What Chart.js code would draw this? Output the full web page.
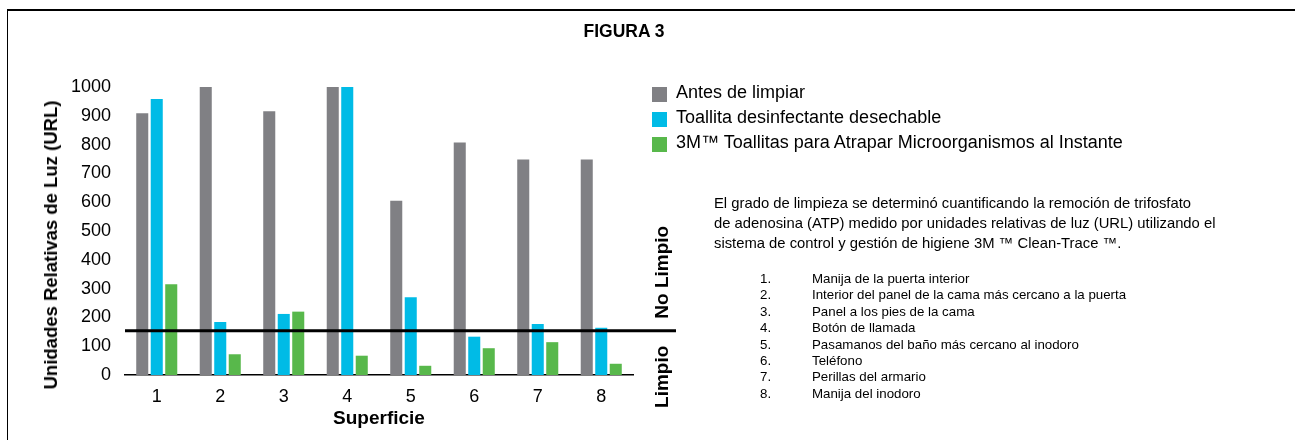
<!DOCTYPE html>
<html><head><meta charset="utf-8">
<script src="https://cdn.jsdelivr.net/npm/chart.js@4.4.0/dist/chart.umd.min.js"></script>
<style>
html,body{margin:0;padding:0;background:#fff;width:1295px;height:440px;overflow:hidden;font-family:"Liberation Sans",Arial,Helvetica,sans-serif;color:#000;}
#frame{position:absolute;left:7px;top:9px;width:1300px;height:440px;border-top:2px solid #000;border-left:1.5px solid #000;box-sizing:border-box;}
#chartBox{position:absolute;left:0;top:0;width:1295px;height:440px;}
#fig{position:absolute;left:624px;top:31px;transform:translate(-50%,-50%) scaleX(0.92);font-weight:bold;font-size:19px;white-space:nowrap;}
#ytitle{position:absolute;left:51px;top:245px;transform:translate(-50%,-50%) rotate(-90deg);font-weight:bold;font-size:18.5px;white-space:nowrap;}
.lg{position:absolute;left:652px;height:25px;}
.lg .sw{position:absolute;left:0;top:0;width:15px;height:15px;}
.lg .tx{position:absolute;left:24px;top:-6px;font-size:18px;line-height:22px;white-space:nowrap;}
#desc{position:absolute;left:714px;top:193px;font-size:14.8px;line-height:20px;white-space:nowrap;}
.li{position:absolute;font-size:13.3px;line-height:16px;white-space:nowrap;}
</style>
</head><body>
<div id="frame"></div>
<div id="chartBox"><canvas id="c" width="1295" height="440"></canvas></div>
<div id="fig">FIGURA 3</div>
<div id="ytitle">Unidades Relativas de Luz (URL)</div>
<div id="legend"></div>
<div id="desc">El grado de limpieza se determinó cuantificando la remoción de trifosfato<br>de adenosina (ATP) medido por unidades relativas de luz (URL) utilizando el<br>sistema de control y gestión de higiene 3M ™ Clean-Trace ™.</div>
<div id="list"></div>
<script>
const categories = ['1','2','3','4','5','6','7','8'];
const seriesNames = ['Antes de limpiar','Toallita desinfectante desechable','3M™ Toallitas para Atrapar Microorganismos al Instante'];
const antesDeLimpiar = [909, 1000, 916, 1000, 605, 807, 748, 748];
const toallitaDesechable = [958, 184, 212, 1000, 270, 133, 177, 164];
const toallitas3M = [315, 72, 220, 67, 32, 93, 114, 39];
const yTickValues = [0,100,200,300,400,500,600,700,800,900,1000];
const threshold = 154;
const surfaces = ['Manija de la puerta interior','Interior del panel de la cama más cercano a la puerta','Panel a los pies de la cama','Botón de llamada','Pasamanos del baño más cercano al inodoro','Teléfono','Perillas del armario','Manija del inodoro'];
const colors = ['#808084','#00bbe6','#58b84b'];

const FAM = '"Liberation Sans", Arial, Helvetica, sans-serif';

// legend
const lg = document.getElementById('legend');
seriesNames.forEach((n,i)=>{
  const d=document.createElement('div'); d.className='lg'; d.style.top=(87+i*25)+'px';
  d.innerHTML='<div class="sw" style="background:'+colors[i]+'"></div><div class="tx"></div>';
  d.querySelector('.tx').textContent=n; lg.appendChild(d);
});
// list
const ls = document.getElementById('list');
surfaces.forEach((s,i)=>{
  const top = 271 + i*16.4;
  const a=document.createElement('div'); a.className='li'; a.style.left='760px'; a.style.top=top+'px'; a.textContent=(i+1)+'.';
  const b=document.createElement('div'); b.className='li'; b.style.left='812px'; b.style.top=top+'px'; b.textContent=s;
  ls.appendChild(a); ls.appendChild(b);
});

const thresholdPlugin = {
  id:'threshold',
  afterDatasetsDraw(chart){
    const {ctx, chartArea, scales:{y}} = chart;
    const py = y.getPixelForValue(threshold);
    ctx.save();
    ctx.strokeStyle='#000'; ctx.lineWidth=3;
    ctx.beginPath(); ctx.moveTo(chartArea.left, py); ctx.lineTo(chartArea.right+43, py); ctx.stroke();
    ctx.translate(chartArea.right+30, py);
    ctx.rotate(-Math.PI/2);
    ctx.fillStyle='#000';
    ctx.font='bold 19px '+FAM;
    ctx.textBaseline='middle';
    ctx.textAlign='right'; ctx.fillText('Limpio', -15, 0);
    ctx.textAlign='left'; ctx.fillText('No Limpio', 12, 0);
    ctx.restore();
  }
};

new Chart(document.getElementById('c'), {
  type:'bar',
  data:{
    labels: categories,
    datasets:[
      {label:seriesNames[0], data:antesDeLimpiar, backgroundColor:colors[0]},
      {label:seriesNames[1], data:toallitaDesechable, backgroundColor:colors[1]},
      {label:seriesNames[2], data:toallitas3M, backgroundColor:colors[2]}
    ]
  },
  options:{
    responsive:false, animation:false,
    layout:{padding:{left:0, top:87, right:662, bottom:0}},
    datasets:{bar:{barPercentage:0.83, categoryPercentage:0.685}},
    plugins:{legend:{display:false}, tooltip:{enabled:false}, title:{display:false}},
    scales:{
      x:{
        grid:{display:false, drawTicks:false},
        border:{display:true, color:'#000', width:1.5},
        ticks:{color:'#000', font:{size:18, family:FAM}, padding:11},
        title:{display:true, text:'Superficie', color:'#000', font:{size:19, weight:'bold', family:FAM}, padding:{top:0,bottom:10}},
        afterFit(s){ s.height = 65; }
      },
      y:{
        min:0, max:1000,
        afterBuildTicks(s){ s.ticks = yTickValues.map(v=>({value:v})); },
        ticks:{color:'#000', font:{size:18, family:FAM}, padding:14, callback:(v)=>String(v)},
        grid:{display:false, drawTicks:false},
        border:{display:false},
        afterFit(s){ s.width = 125; }
      }
    }
  },
  plugins:[thresholdPlugin]
});
</script>
</body></html>
